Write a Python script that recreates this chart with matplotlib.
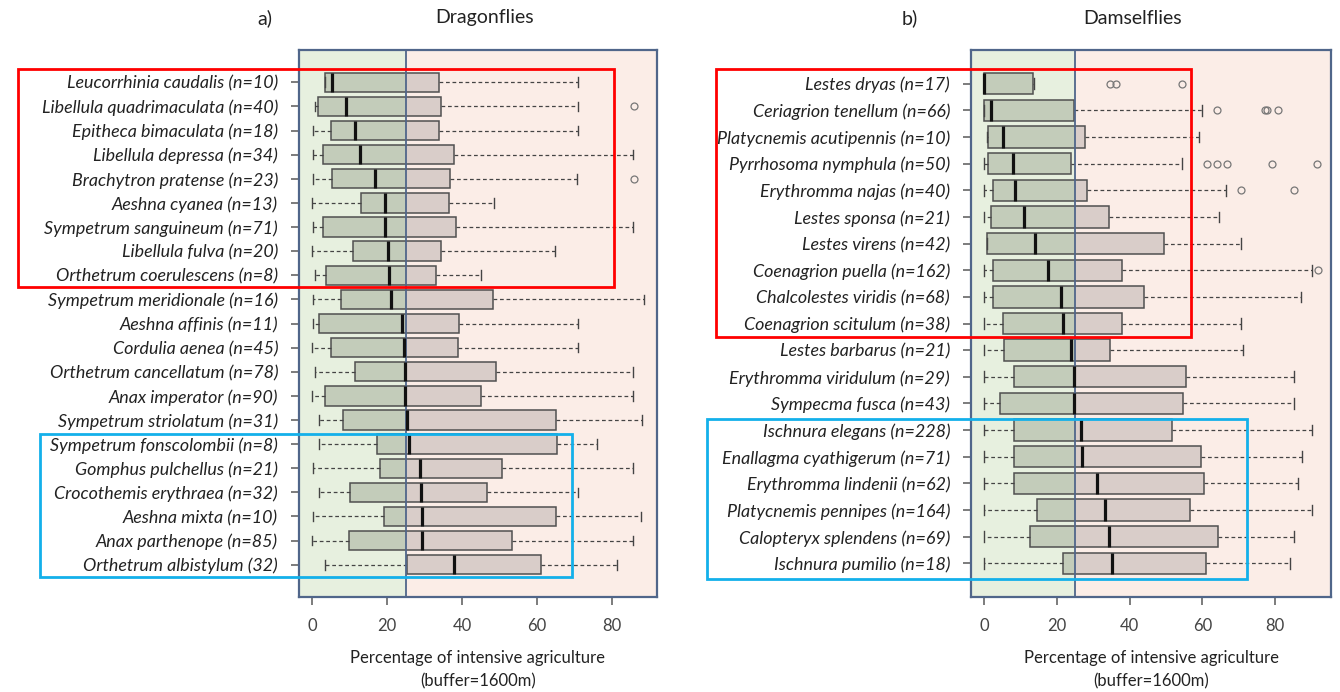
import matplotlib
matplotlib.use("Agg")
import matplotlib.pyplot as plt
from matplotlib.patches import Rectangle

# ---------------- data ----------------
drag_names = [
    "Leucorrhinia caudalis (n=10)", "Libellula quadrimaculata (n=40)",
    "Epitheca bimaculata (n=18)", "Libellula depressa (n=34)",
    "Brachytron pratense (n=23)", "Aeshna cyanea (n=13)",
    "Sympetrum sanguineum (n=71)", "Libellula fulva (n=20)",
    "Orthetrum coerulescens (n=8)", "Sympetrum meridionale (n=16)",
    "Aeshna affinis (n=11)", "Cordulia aenea (n=45)",
    "Orthetrum cancellatum (n=78)", "Anax imperator (n=90)",
    "Sympetrum striolatum (n=31)", "Sympetrum fonscolombii (n=8)",
    "Gomphus pulchellus (n=21)", "Crocothemis erythraea (n=32)",
    "Aeshna mixta (n=10)", "Anax parthenope (n=85)",
    "Orthetrum albistylum (32)",
]
drag_lo = [3.3, 0.7, 0.3, 0.3, 0.3, 0.0, 0.3, 0.0, 0.8, 0.3, 0.3,
           0.0, 0.8, 0.0, 1.7, 1.7, 0.3, 1.9, 0.3, 0.0, 3.4]
drag_q1 = [3.4, 1.4, 4.9, 2.8, 5.2, 13.1, 2.8, 10.9, 3.6, 7.8, 1.7,
           4.9, 11.4, 3.4, 8.3, 17.4, 18.2, 10.0, 19.1, 9.7, 25.2]
drag_med = [5.4, 9.1, 11.3, 12.8, 16.7, 19.5, 19.5, 20.2, 20.5, 21.1, 23.9,
            24.5, 24.8, 24.8, 25.3, 25.9, 28.8, 29.0, 29.2, 29.2, 37.8]
drag_q3 = [33.9, 34.3, 33.9, 37.8, 36.9, 36.4, 38.3, 34.3, 33.1, 48.4, 39.3,
           38.8, 49.1, 45.2, 65.1, 65.3, 50.6, 46.8, 65.1, 53.4, 61.1]
drag_hi = [71.0, 71.0, 71.0, 85.8, 70.7, 48.6, 85.8, 64.8, 45.2, 88.6, 71.0,
           71.0, 85.8, 85.8, 88.0, 76.1, 85.8, 71.0, 87.8, 85.8, 81.3]
drag_out = [[], [86.0], [], [], [86.0], [], [], [], [], [], [],
            [], [], [], [], [], [], [], [], [], []]

dams_names = [
    "Lestes dryas (n=17)", "Ceriagrion tenellum (n=66)",
    "Platycnemis acutipennis (n=10)", "Pyrrhosoma nymphula (n=50)",
    "Erythromma najas (n=40)", "Lestes sponsa (n=21)",
    "Lestes virens (n=42)", "Coenagrion puella (n=162)",
    "Chalcolestes viridis (n=68)", "Coenagrion scitulum (n=38)",
    "Lestes barbarus (n=21)", "Erythromma viridulum (n=29)",
    "Sympecma fusca (n=43)", "Ischnura elegans (n=228)",
    "Enallagma cyathigerum (n=71)", "Erythromma lindenii (n=62)",
    "Platycnemis pennipes (n=164)", "Calopteryx splendens (n=69)",
    "Ischnura pumilio (n=18)",
]
dams_lo = [0.0, 0.0, 0.6, 0.0, 0.0, 0.0, 0.6, 0.0, 0.0, 0.0,
           0.0, 0.0, 0.0, 0.0, 0.0, 0.0, 0.0, 0.0, 0.0]
dams_q1 = [0.0, 0.0, 1.1, 0.9, 2.5, 1.9, 0.6, 2.5, 2.5, 5.1,
           5.4, 8.2, 4.2, 8.2, 8.2, 8.2, 14.6, 12.7, 21.7]
dams_med = [0.0, 1.7, 5.1, 7.9, 8.4, 10.9, 14.0, 17.4, 21.1, 21.7,
            23.8, 24.6, 24.6, 26.6, 27.0, 31.1, 33.1, 34.3, 35.2]
dams_q3 = [13.3, 24.6, 27.8, 23.9, 28.2, 34.3, 49.4, 37.9, 44.0, 37.9,
           34.6, 55.6, 54.8, 51.7, 59.6, 60.4, 56.7, 64.3, 60.9]
dams_hi = [13.8, 59.9, 59.0, 54.5, 66.6, 64.6, 70.6, 90.2, 87.1, 70.6,
           71.3, 85.2, 85.2, 90.2, 87.3, 86.2, 90.2, 85.2, 84.0]
dams_out = [[34.6, 36.2, 54.5], [64.0, 77.3, 77.8, 80.7], [],
            [61.2, 64.0, 66.9, 79.2, 91.6], [70.6, 85.2], [], [],
            [91.8], [], [], [], [], [], [], [], [], [], [], []]

xticks = [0, 20, 40, 60, 80]
threshold = 25

# ---------------- style ----------------
W, H = 1340, 692
GREEN_BG = "#e7f0df"
PINK_BG = "#fbede7"
GREEN_BOX = "#c3ccba"
PINK_BOX = "#d9cdc9"
FRAME = "#50668a"
EDGE = "#505050"
LABEL_FONT = ["Lato", "DejaVu Sans"]

fig = plt.figure(figsize=(W / 100, H / 100), dpi=100)


def px_axes(x0, x1, y0, y1):
    return fig.add_axes([x0 / W, 1 - y1 / H, (x1 - x0) / W, (y1 - y0) / H])


def draw_panel(ax, names, lo, q1, med, q3, hi, out, xlim):
    n = len(names)
    pos = [n - i for i in range(n)]
    stats = []
    for i in range(n):
        stats.append(dict(whislo=lo[i], q1=q1[i], med=med[i], q3=q3[i],
                          whishi=hi[i], fliers=out[i], label=names[i]))
    ax.set_xlim(*xlim)
    ax.set_ylim(0.5 - 0.04 * n, n + 0.5 + 0.04 * n)
    ax.axvspan(xlim[0] - 5, threshold, color=GREEN_BG, zorder=0, lw=0)
    ax.axvspan(threshold, xlim[1] + 5, color=PINK_BG, zorder=0, lw=0)

    common = dict(positions=pos, vert=False, widths=0.8, patch_artist=True,
                  manage_ticks=False)
    b1 = ax.bxp(stats, **common, capwidths=0.4,
                boxprops=dict(facecolor=GREEN_BOX, edgecolor=EDGE, lw=1.1),
                whiskerprops=dict(color="#444444", lw=0.9, linestyle=(0, (3, 2.2))),
                capprops=dict(color="#444444", lw=1.0),
                medianprops=dict(color="#111111", lw=2.3, solid_capstyle="butt"),
                flierprops=dict(marker="o", markerfacecolor="none",
                                markeredgecolor="#777777", markersize=5,
                                markeredgewidth=0.9))
    clip_g = Rectangle((xlim[0] - 5, -5), threshold - xlim[0] + 5, n + 10,
                       transform=ax.transData)
    for bx in b1["boxes"]:
        bx.set_clip_path(clip_g)
        bx.set_zorder(2)
    for m in b1["medians"]:
        m.set_zorder(5)

    b2 = ax.bxp(stats, **common, showcaps=False, showfliers=False,
                boxprops=dict(facecolor=PINK_BOX, edgecolor=EDGE, lw=1.1),
                whiskerprops=dict(linestyle="none"),
                medianprops=dict(linestyle="none"))
    clip_p = Rectangle((threshold, -5), 200, n + 10, transform=ax.transData)
    for bx in b2["boxes"]:
        bx.set_clip_path(clip_p)
        bx.set_zorder(2)

    ax.axvline(threshold, color=FRAME, lw=1.3, zorder=4)

    ax.set_yticks(pos)
    ax.set_yticklabels(names, style="italic", family=LABEL_FONT,
                       fontsize=12.9, color="#222222")
    ax.set_xticks(xticks)
    ax.set_xticklabels([str(t) for t in xticks], family=LABEL_FONT,
                       fontsize=12, color="#444444")
    ax.tick_params(axis="y", length=6, width=1.2, color="#666666", pad=9)
    ax.tick_params(axis="x", length=6, width=1.2, color="#666666", pad=9)
    for s in ax.spines.values():
        s.set_color(FRAME)
        s.set_linewidth(1.6)
        s.set_zorder(6)
    ax.set_xlabel("Percentage of intensive agriculture\n(buffer=1600m)",
                  family=LABEL_FONT, fontsize=12, color="#222222",
                  labelpad=12, linespacing=1.5)


ax1 = px_axes(299, 657, 50, 597)
draw_panel(ax1, drag_names, drag_lo, drag_q1, drag_med, drag_q3, drag_hi,
           drag_out, (-3.55, 92.1))
ax2 = px_axes(971, 1331, 50, 597)
draw_panel(ax2, dams_names, dams_lo, dams_q1, dams_med, dams_q3, dams_hi,
           dams_out, (-3.67, 95.4))

# titles
fig.text(485 / W, 1 - 18 / H, "Dragonflies", ha="center", va="center",
         family=LABEL_FONT, fontsize=14, color="#222222")
fig.text(265 / W, 1 - 18 / H, "a)", ha="center", va="center",
         family=LABEL_FONT, fontsize=14, color="#222222")
fig.text(1133 / W, 1 - 18 / H, "Damselflies", ha="center", va="center",
         family=LABEL_FONT, fontsize=14, color="#222222")
fig.text(910 / W, 1 - 18 / H, "b)", ha="center", va="center",
         family=LABEL_FONT, fontsize=14, color="#222222")

# highlight frames
def frame(x0, y0, x1, y1, color):
    fig.patches.append(Rectangle((x0 / W, 1 - y1 / H), (x1 - x0) / W,
                                 (y1 - y0) / H, transform=fig.transFigure,
                                 fill=False, edgecolor=color, lw=2.0,
                                 zorder=10))


frame(18, 69, 614, 287, "#ff0000")
frame(40, 434, 572, 577, "#13b0ea")
frame(716, 69, 1191, 337, "#ff0000")
frame(707, 419, 1247, 579, "#13b0ea")

fig.savefig("out.png", dpi=100, facecolor="white")
